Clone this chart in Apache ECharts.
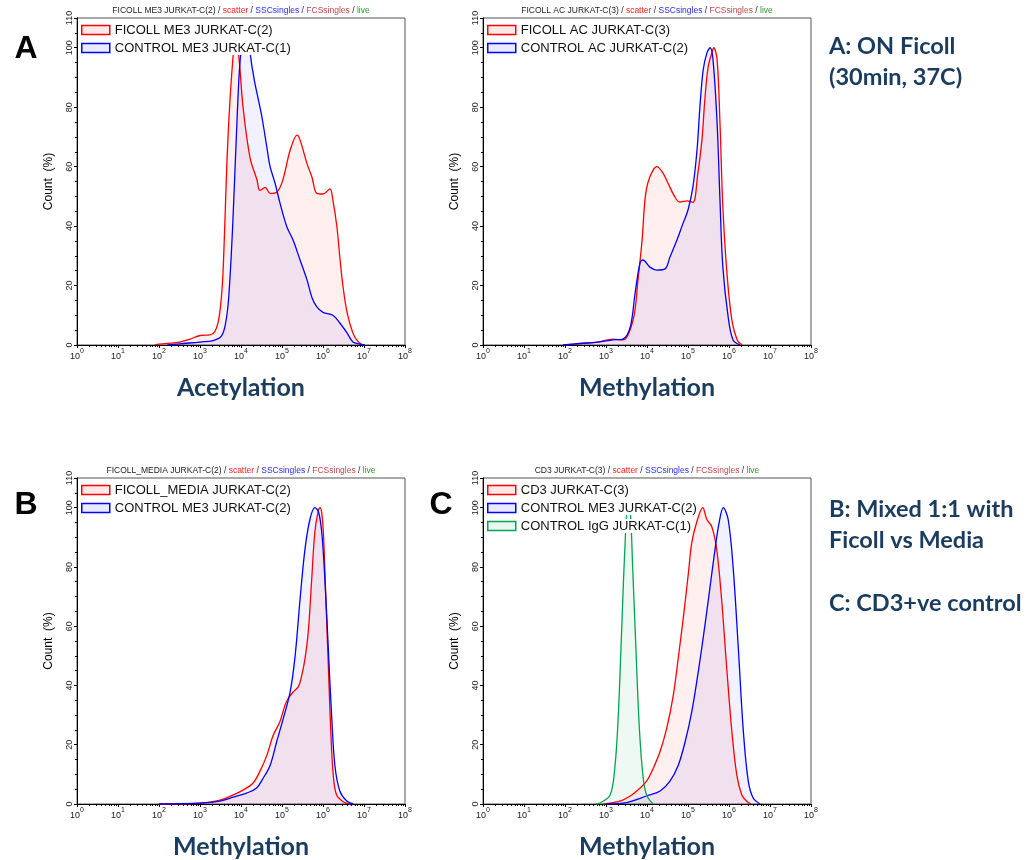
<!DOCTYPE html>
<html>
<head>
<meta charset="utf-8">
<title>Flow histograms</title>
<script src="https://cdn.jsdelivr.net/npm/echarts@6/dist/echarts.min.js"></script>
<style>
  html, body { margin: 0; padding: 0; background: #fff; }
  #chart { width: 1029px; height: 860px; }
</style>
</head>
<body>
<div id="chart"></div>
<script>
// x = log10(intensity), y = count (%)
var decades = [0, 1, 2, 3, 4, 5, 6, 7, 8];
var countTicks = [0, 20, 40, 60, 80, 100, 110];

// A left - acetylation
var aceFicoll = [[1.9,0],[2.0,0.3],[2.5,1],[2.76,2],[3.0,3.2],[3.24,3.4],[3.36,4.5],[3.44,7.5],[3.50,13],[3.56,24],[3.68,69],[3.80,96],[3.86,100],[3.93,99],[4.05,80],[4.22,63],[4.39,55.5],[4.46,52],[4.59,53],[4.71,51],[4.88,51.5],[5.02,55.5],[5.20,65.6],[5.37,70.6],[5.44,69],[5.61,61],[5.73,56.5],[5.85,51],[6.0,50.8],[6.17,52.5],[6.24,48.8],[6.34,39.7],[6.41,29.6],[6.49,19.5],[6.59,10.8],[6.73,4],[6.85,1.2],[6.98,0]];
var aceControl = [[2.2,0],[2.6,0.5],[3.0,1],[3.32,1.5],[3.52,3],[3.62,7],[3.70,16],[3.80,41],[3.90,74.7],[3.98,96],[4.05,100],[4.17,100],[4.27,93.5],[4.34,88],[4.41,83.4],[4.51,76.7],[4.63,66.6],[4.71,60],[4.83,54.5],[4.95,47.8],[5.12,39.7],[5.27,35.3],[5.44,28.6],[5.61,21.9],[5.73,16],[5.85,12.8],[6.0,11],[6.24,10],[6.41,7.4],[6.59,4],[6.73,1],[6.9,0.3],[7.02,0]];

// A right - methylation
var methFicoll = [[1.95,0],[2.37,0.5],[2.8,1],[3.17,2],[3.41,1.7],[3.66,8.4],[3.78,21.9],[3.88,35.3],[3.95,48.8],[4.02,54.5],[4.15,58.9],[4.24,60],[4.39,57.8],[4.51,54.5],[4.68,49.8],[4.80,48.1],[4.98,48.5],[5.12,48],[5.24,57.8],[5.34,69],[5.41,82.4],[5.49,93.5],[5.59,98.6],[5.63,100],[5.71,96],[5.78,74.7],[5.85,46.4],[5.95,24.2],[6.07,8.4],[6.20,1.7],[6.32,0]];
var methControl = [[1.95,0],[2.37,0.5],[2.8,1],[3.17,1.7],[3.41,2],[3.59,6],[3.71,17.5],[3.83,27.6],[3.90,28.6],[4.07,26.2],[4.24,25.2],[4.44,25.6],[4.56,29.6],[4.73,35.3],[4.88,41],[5.0,45.4],[5.12,53.2],[5.22,65.6],[5.29,80],[5.37,92.5],[5.46,98.2],[5.54,100],[5.61,96],[5.71,74.7],[5.78,48.8],[5.85,26.2],[5.98,9.4],[6.10,1.7],[6.27,0]];

// B - ficoll vs media
var mediaFicoll = [[2.0,0],[3.0,0.3],[3.49,1.3],[3.80,3],[4.05,4.7],[4.29,7],[4.46,11],[4.63,16.4],[4.78,23],[4.95,27.8],[5.07,33.2],[5.15,35.6],[5.28,37.9],[5.40,39.6],[5.48,43.3],[5.56,49],[5.64,58],[5.72,74.8],[5.80,91.6],[5.88,98.6],[5.93,100],[5.97,98.2],[6.01,91.5],[6.07,69],[6.13,46.7],[6.19,24.4],[6.25,9.8],[6.33,3.1],[6.50,0.7],[6.66,0]];
var mediaControl = [[2.0,0],[3.0,0.3],[3.49,1],[3.81,2.3],[4.14,3.7],[4.38,5.4],[4.54,8.7],[4.71,13],[4.87,21],[5.03,28.8],[5.20,37.9],[5.32,50],[5.44,69],[5.56,85.9],[5.68,96],[5.80,100],[5.89,98.6],[5.97,91.6],[6.05,74.8],[6.13,52.3],[6.21,29.9],[6.29,13],[6.41,4.4],[6.58,1],[6.74,0]];

// C - CD3 control
var cd3 = [[2.93,0],[3.34,1],[3.59,2.7],[3.83,5.4],[3.99,7.7],[4.15,12],[4.32,17.8],[4.48,25.5],[4.64,36.6],[4.76,49],[4.89,63.4],[5.01,78],[5.09,88],[5.21,95],[5.36,100],[5.46,96],[5.58,93.6],[5.70,85.9],[5.82,69],[5.94,46.7],[6.07,24.4],[6.19,9.8],[6.31,3.1],[6.43,0.9],[6.54,0]];
var cd3Control = [[3.0,0],[3.50,0.5],[3.99,2.7],[4.32,4.4],[4.56,7.7],[4.76,13],[4.93,21],[5.09,31],[5.25,44.6],[5.41,60],[5.54,73.5],[5.66,86],[5.76,95],[5.86,100],[5.98,96],[6.10,80],[6.23,52],[6.35,24.5],[6.47,7.7],[6.59,2],[6.76,0]];
var igg = [[2.75,0],[2.85,0.3],[3.10,3],[3.22,13],[3.30,30],[3.38,58],[3.46,86],[3.53,100],[3.59,99],[3.65,80],[3.73,52.3],[3.81,26.5],[3.90,9.7],[3.99,3],[4.15,0]];

var RED = { line: '#ff0000', fill: 'rgba(255,0,0,0.09)' };
var BLUE = { line: '#0000ff', fill: 'rgba(0,0,255,0.08)' };
var GREEN = { line: '#00a550', fill: 'rgba(0,165,80,0.09)' };
var NAVY = '#1a3c5e';

var panels = [
  { box: [77, 18, 328, 327], sample: 'FICOLL ME3 JURKAT-C(2)', xName: 'Acetylation',
    curves: [['FICOLL ME3 JURKAT-C(2)', aceFicoll, RED], ['CONTROL ME3 JURKAT-C(1)', aceControl, BLUE]] },
  { box: [483, 18, 328, 327], sample: 'FICOLL AC JURKAT-C(3)', xName: 'Methylation',
    curves: [['FICOLL AC JURKAT-C(3)', methFicoll, RED], ['CONTROL AC JURKAT-C(2)', methControl, BLUE]] },
  { box: [77, 478, 328, 328], sample: 'FICOLL_MEDIA JURKAT-C(2)', xName: 'Methylation',
    curves: [['FICOLL_MEDIA JURKAT-C(2)', mediaFicoll, RED], ['CONTROL ME3 JURKAT-C(2)', mediaControl, BLUE]] },
  { box: [483, 478, 328, 328], sample: 'CD3 JURKAT-C(3)', xName: 'Methylation',
    curves: [['CD3 JURKAT-C(3)', cd3, RED], ['CONTROL ME3 JURKAT-C(2)', cd3Control, BLUE], ['CONTROL IgG JURKAT-C(1)', igg, GREEN]] }
];

// log minor ticks (2..9 x 10^n)
var minorVals = [];
for (var d = 0; d < 8; d++) {
  for (var k = 2; k <= 9; k++) minorVals.push(d + Math.log10(k));
}

var grids = [], xAxes = [], yAxes = [], series = [], legends = [], graphics = [];

panels.forEach(function (p, i) {
  grids.push({
    left: p.box[0], top: p.box[1], width: p.box[2], height: p.box[3],
    show: true, borderColor: '#555', borderWidth: 1, backgroundColor: '#fff'
  });
  xAxes.push({
    type: 'value', gridIndex: i, min: 0, max: 8, interval: 1,
    axisLine: { onZero: false, lineStyle: { color: '#000', width: 1 } },
    axisTick: { length: 3, lineStyle: { color: '#000' } },
    splitLine: { show: false },
    axisLabel: {
      margin: 3, color: '#222',
      formatter: function (v) { return '{b|10}{s|' + v + '}'; },
      rich: {
        b: { fontSize: 9, fontFamily: 'Liberation Sans', color: '#222', verticalAlign: 'bottom', lineHeight: 13 },
        s: { fontSize: 7, fontFamily: 'Liberation Sans', color: '#222', verticalAlign: 'top', lineHeight: 13 }
      }
    },
    name: p.xName, nameLocation: 'middle', nameGap: 30,
    nameTextStyle: { fontSize: 25, fontWeight: 'bold', fontFamily: 'Lato', color: NAVY }
  });
  xAxes.push({
    type: 'value', gridIndex: i, min: 0, max: 8, position: 'bottom',
    axisLine: { show: false }, axisLabel: { show: false }, splitLine: { show: false },
    axisTick: { show: true, length: 2, customValues: minorVals, lineStyle: { color: '#000' } }
  });
  yAxes.push({
    type: 'value', gridIndex: i, min: 0, max: 110, interval: 20,
    axisLine: { show: true, onZero: false, lineStyle: { color: '#000', width: 1 } },
    axisTick: { show: true, length: 3, lineStyle: { color: '#000' } },
    minorTick: { show: true, splitNumber: 4, length: 2, lineStyle: { color: '#000' } },
    splitLine: { show: false },
    axisLabel: { rotate: 90, fontSize: 9, color: '#222', margin: 3, fontFamily: 'Liberation Sans' },
    name: 'Count  (%)', nameLocation: 'middle', nameGap: 22, nameRotate: 90,
    nameTextStyle: { fontSize: 12, color: '#000', fontFamily: 'Liberation Sans' }
  });

  var legendData = [];
  p.curves.forEach(function (c) {
    series.push({
      name: c[0], type: 'line', xAxisIndex: i * 2, yAxisIndex: i,
      data: c[1], showSymbol: false, smooth: 0.35,
      lineStyle: { color: c[2].line, width: 1.3 },
      itemStyle: { color: c[2].fill, borderColor: c[2].line, borderWidth: 1.5 },
      areaStyle: { color: c[2].fill, origin: 'start' }
    });
    legendData.push({ name: c[0], itemStyle: { color: c[2].fill, borderColor: c[2].line, borderWidth: 1.5 } });
  });
  legends.push({
    orient: 'vertical', left: p.box[0] + 4, top: p.box[1] + 5, padding: 0,
    icon: 'rect', itemWidth: 28, itemHeight: 9, itemGap: 4,
    data: legendData,
    textStyle: { fontSize: 13, color: '#111', fontFamily: 'Liberation Sans', lineHeight: 14, backgroundColor: '#fff' }
  });

  graphics.push({
    type: 'text', x: p.box[0] + p.box[2] / 2, y: p.box[1] - 7,
    style: {
      text: p.sample + ' / {r|scatter} / {b|SSCsingles} / {m|FCSsingles} / {g|live}',
      fontSize: 8.5, fontFamily: 'Liberation Sans', fill: '#222', align: 'center', verticalAlign: 'middle',
      rich: {
        r: { fill: '#ff2020', fontSize: 8.5, fontFamily: 'Liberation Sans' },
        b: { fill: '#2b2bff', fontSize: 8.5, fontFamily: 'Liberation Sans' },
        m: { fill: '#c24a4a', fontSize: 8.5, fontFamily: 'Liberation Sans' },
        g: { fill: '#2a9a2a', fontSize: 8.5, fontFamily: 'Liberation Sans' }
      }
    }
  });
});

var letterStyle = { fontSize: 32, fontWeight: 'bold', fontFamily: 'Liberation Sans', fill: '#000', align: 'center', verticalAlign: 'middle' };
[['A', 26, 49], ['B', 26, 505], ['C', 441, 505]].forEach(function (l) {
  graphics.push({ type: 'text', x: l[1], y: l[2], style: Object.assign({ text: l[0] }, letterStyle) });
});

var notes = [['A: ON Ficoll', 46], ['(30min, 37C)', 77], ['B: Mixed 1:1 with', 509], ['Ficoll vs Media', 540], ['C: CD3+ve control', 603]];
notes.forEach(function (n) {
  graphics.push({
    type: 'text', x: 829, y: n[1],
    style: { text: n[0], fontSize: 23.5, fontWeight: 'bold', fontFamily: 'Lato', fill: NAVY, align: 'left', verticalAlign: 'middle' }
  });
});

var chart = echarts.init(document.getElementById('chart'));
chart.setOption({
  animation: false,
  backgroundColor: '#fff',
  grid: grids,
  xAxis: xAxes,
  yAxis: yAxes,
  legend: legends,
  series: series,
  graphic: graphics
});
</script>
</body>
</html>
